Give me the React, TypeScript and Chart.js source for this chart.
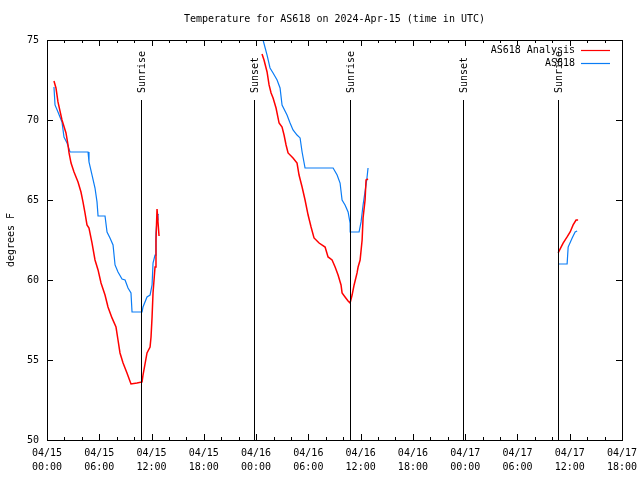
import React, { useEffect, useRef } from "react";
import { Chart, registerables } from "chart.js";

Chart.register(...registerables);

// ---- data ----
const titleText = "Temperature for AS618 on 2024-Apr-15 (time in UTC)";
const yAxisTitle = "degrees F";
const seriesNames = ["AS618 Analysis", "AS618"];
const seriesColors = ["#ff0000", "#0a7cf5"];

// hours since 04/15 00:00 UTC; null separates the daily pieces
const analysisHours = [
  0.8, 1.03, 1.26, 1.72, 2.18, 2.41, 2.53, 2.76, 3.1, 3.56, 3.9, 4.13, 4.36, 4.59, 4.82, 5.17, 5.51, 5.86, 6.2, 6.66,
  7.0, 7.46, 7.92, 8.15, 8.38, 8.73, 9.18, 9.64, 10.33, 10.91, 11.02, 11.48, 11.83, 11.94, 12.06, 12.17, 12.4, 12.51,
  12.63, 12.69, 12.86,
  null,
  24.68, 24.91, 25.26, 25.49, 25.72, 25.95, 26.29, 26.64, 26.98, 27.21, 27.44, 27.67, 28.24, 28.7, 28.93, 29.28, 29.62,
  29.97, 30.31, 30.65, 31.23, 31.92, 32.26, 32.72, 33.07, 33.41, 33.75, 33.87, 34.21, 34.56, 34.79, 35.02, 35.25, 35.59,
  35.71, 35.94, 36.17, 36.28, 36.51, 36.62, 36.85,
  null,
  58.67, 59.24, 59.7, 60.05, 60.39, 60.73, 60.96,
];
const analysisTemps = [
  72.44, 72.0, 71.13, 70.0, 69.19, 68.44, 67.94, 67.31, 66.75, 66.13, 65.5, 64.88, 64.19, 63.44, 63.25, 62.31, 61.25,
  60.63, 59.81, 59.06, 58.31, 57.63, 57.06, 56.25, 55.44, 54.81, 54.19, 53.5, 53.56, 53.63, 54.06, 55.44, 55.81, 56.44,
  57.69, 59.19, 60.81, 62.5, 64.44, 64.44, 62.75,
  null,
  74.13, 73.75, 73.0, 72.19, 71.69, 71.38, 70.75, 69.81, 69.56, 69.06, 68.44, 67.94, 67.63, 67.31, 66.56, 65.81, 65.0,
  64.06, 63.31, 62.63, 62.31, 62.06, 61.44, 61.25, 60.81, 60.31, 59.69, 59.19, 58.94, 58.69, 58.56, 59.06, 59.69, 60.44,
  60.81, 61.25, 62.5, 63.88, 65.0, 66.25, 66.31,
  null,
  61.69, 62.31, 62.69, 63.0, 63.44, 63.75, 63.75,
];

const obsHours = [
  0.8, 0.92, 1.26, 1.72, 1.95, 2.3, 2.64, 4.71, 4.82, 5.17, 5.51, 5.74, 5.86, 6.66, 6.89, 7.23, 7.58, 7.81, 8.15, 8.61,
  8.96, 9.3, 9.64, 9.76, 10.91, 11.02, 11.48, 11.83, 12.06, 12.17, 12.4, 12.51, 12.63, 12.74, 12.8,
  null,
  24.45, 24.8, 25.26, 25.6, 25.95, 26.41, 26.75, 26.98, 27.55, 27.9, 28.24, 28.7, 29.05, 29.28, 29.62, 32.84, 33.3,
  33.64, 33.87, 34.21, 34.56, 34.79, 34.8, 35.82, 36.05, 36.28, 36.62, 36.74, 36.85,
  null,
  58.67, 59.7, 59.82, 60.28, 60.62, 60.85,
];
const obsTemps = [
  72.06, 70.94, 70.5, 69.88, 68.94, 68.56, 68.0, 68.0, 67.38, 66.56, 65.75, 64.88, 64.0, 64.0, 63.0, 62.63, 62.19,
  60.94, 60.5, 60.06, 60.0, 59.5, 59.19, 58.0, 58.0, 58.31, 58.94, 59.06, 59.69, 61.06, 61.56, 62.94, 63.75, 64.06, 64.13,
  null,
  75.6, 75.0, 74.06, 73.25, 72.94, 72.5, 72.0, 70.94, 70.31, 69.81, 69.38, 69.06, 68.88, 68.0, 67.0, 67.0, 66.56, 66.06,
  65.0, 64.69, 64.25, 63.56, 63.0, 63.0, 63.63, 64.69, 65.94, 66.44, 67.0,
  null,
  61.0, 61.0, 62.06, 62.63, 63.0, 63.06,
];

const sunEventHours = [10.79, 23.8, 34.79, 47.76, 58.7];
const sunEventNames = ["Sunrise", "Sunset", "Sunrise", "Sunset", "Sunrise"];

const xTickLabels = [
  ["04/15", "00:00"], ["04/15", "06:00"], ["04/15", "12:00"], ["04/15", "18:00"],
  ["04/16", "00:00"], ["04/16", "06:00"], ["04/16", "12:00"], ["04/16", "18:00"],
  ["04/17", "00:00"], ["04/17", "06:00"], ["04/17", "12:00"], ["04/17", "18:00"],
];
const yTickValues = [50, 55, 60, 65, 70, 75];

const FONT = "'DejaVu Sans Mono', 'Liberation Mono', monospace";

// gap markers keep x sorted (previous x) and carry a null y
function toPoints(xs: (number | null)[], ys: (number | null)[]) {
  let last = 0;
  return xs.map((x, i) => {
    if (x === null) return { x: last, y: null };
    last = x;
    return { x, y: ys[i] };
  });
}

const gnuplotDecor = {
  id: "gnuplotDecor",
  afterDraw(chart: any) {
    const { ctx, chartArea, scales } = chart;
    const { left, right, top, bottom } = chartArea;
    const xs = scales.x;
    const ys = scales.y;
    ctx.save();
    ctx.fillStyle = "#000";
    ctx.font = "10px " + FONT;
    // title centred over the plot area
    ctx.textAlign = "center";
    ctx.textBaseline = "middle";
    ctx.fillText(titleText, (left + right) / 2, 19);

    ctx.strokeStyle = "#000";
    ctx.lineWidth = 1;
    // border
    ctx.strokeRect(Math.round(left) + 0.5, Math.round(top) + 0.5, Math.round(right - left), Math.round(bottom - top));
    // x ticks (major every 6h, minor every 2h), mirrored on top
    ctx.beginPath();
    for (let h = xs.min; h <= xs.max; h += 2) {
      const px = Math.round(xs.getPixelForValue(h)) + 0.5;
      const len = h % 6 === 0 ? 6 : 3;
      ctx.moveTo(px, bottom);
      ctx.lineTo(px, bottom - len);
      ctx.moveTo(px, top);
      ctx.lineTo(px, top + len);
    }
    // y ticks, mirrored on right
    for (const v of yTickValues) {
      const py = Math.round(ys.getPixelForValue(v)) + 0.5;
      ctx.moveTo(left, py);
      ctx.lineTo(left + 6, py);
      ctx.moveTo(right, py);
      ctx.lineTo(right - 6, py);
    }
    ctx.stroke();

    // sunrise / sunset markers
    sunEventHours.forEach((h, i) => {
      const px = Math.round(xs.getPixelForValue(h)) + 0.5;
      ctx.beginPath();
      ctx.moveTo(px, top + 60);
      ctx.lineTo(px, bottom);
      ctx.stroke();
      ctx.save();
      ctx.translate(px + 1, top + 53);
      ctx.rotate(-Math.PI / 2);
      ctx.textAlign = "left";
      ctx.textBaseline = "middle";
      ctx.fillText(sunEventNames[i], 0, 0);
      ctx.restore();
    });

    // legend (top right, inside)
    ctx.textAlign = "right";
    ctx.textBaseline = "middle";
    chart.data.datasets.forEach((ds: any, i: number) => {
      const y = top + 10 + i * 13;
      ctx.fillStyle = "#000";
      ctx.fillText(ds.label, right - 47, y);
      ctx.strokeStyle = ds.borderColor;
      ctx.lineWidth = 1.2;
      ctx.beginPath();
      ctx.moveTo(right - 41, Math.round(y) + 0.5);
      ctx.lineTo(right - 12, Math.round(y) + 0.5);
      ctx.stroke();
    });
    ctx.restore();
  },
};

export default function App() {
  const ref = useRef<HTMLCanvasElement | null>(null);
  useEffect(() => {
    if (!ref.current) return;
    const chart = new Chart(ref.current, {
      type: "line",
      data: {
        datasets: [
          {
            label: seriesNames[0],
            data: toPoints(analysisHours, analysisTemps) as any,
            borderColor: seriesColors[0],
            borderWidth: 1.5,
            pointRadius: 0,
            tension: 0,
            spanGaps: false,
          },
          {
            label: seriesNames[1],
            data: toPoints(obsHours, obsTemps) as any,
            borderColor: seriesColors[1],
            borderWidth: 1.2,
            pointRadius: 0,
            tension: 0,
            spanGaps: false,
          },
        ],
      },
      options: {
        animation: false,
        responsive: false,
        layout: { padding: { top: 40, left: 0, right: 18, bottom: 0 } },
        plugins: {
          legend: { display: false },
          tooltip: { enabled: false },
          title: { display: false },
        },
        scales: {
          x: {
            type: "linear",
            min: 0,
            max: 66,
            border: { display: false },
            grid: { display: false, drawTicks: false },
            afterFit: (s: any) => {
              s.height = 40;
              s.paddingLeft = 0;
              s.paddingRight = 0;
            },
            ticks: {
              stepSize: 6,
              padding: 6,
              color: "#000",
              maxRotation: 0,
              autoSkip: false,
              font: { family: FONT, size: 10, lineHeight: 1.4 },
              callback: (v: any) => xTickLabels[Math.round(Number(v) / 6)] as any,
            },
          },
          y: {
            type: "linear",
            min: 50,
            max: 75,
            border: { display: false },
            grid: { display: false, drawTicks: false },
            afterFit: (s: any) => {
              s.width = 47;
              s.paddingTop = 0;
              s.paddingBottom = 0;
            },
            title: {
              display: true,
              text: yAxisTitle,
              color: "#000",
              font: { family: FONT, size: 10, lineHeight: 1.2 },
              padding: { top: 5, bottom: 0 },
            },
            ticks: {
              stepSize: 5,
              padding: 8,
              color: "#000",
              font: { family: FONT, size: 10 },
            },
          },
        },
      },
      plugins: [gnuplotDecor],
    });
    return () => chart.destroy();
  }, []);
  return (
    <div style={{ position: "absolute", left: 0, top: 0, width: 640, height: 480, background: "#fff" }}>
      <canvas ref={ref} width={640} height={480} style={{ display: "block" }} />
    </div>
  );
}
